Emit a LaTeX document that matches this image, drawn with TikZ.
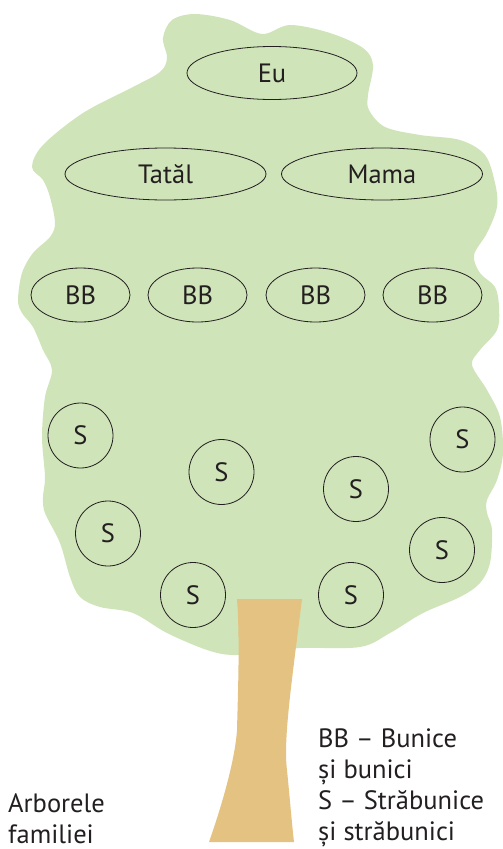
\documentclass[tikz,border=0pt]{standalone}
\usepackage{fontspec}
\setmainfont{PT Sans}
\usetikzlibrary{shapes.geometric}
\definecolor{leaf}{RGB}{207,228,185}
\definecolor{bark}{RGB}{228,194,130}
\definecolor{ink}{RGB}{35,31,32}

\begin{document}
\begin{tikzpicture}[
  x=1pt, y=-1pt,
  font=\fontsize{26.5}{31}\selectfont, text=ink,
  member/.style={draw=ink, line width=0.8pt, inner sep=0pt},
  me/.style={member, ellipse, minimum width=170pt, minimum height=53pt},
  parent/.style={member, ellipse, minimum width=201pt, minimum height=52pt},
  grand/.style={member, ellipse, minimum width=99pt, minimum height=54pt},
  great/.style={member, circle, minimum size=65pt},
]
\useasboundingbox (0,0) rectangle (503,849);

% crown of the tree
\fill[leaf] plot[smooth cycle, tension=0.55] coordinates {
  (163,38) (172,20) (195,14) (230,20) (262,34) (290,25) (330,33)
  (363,48) (373,65) (368,95) (369,110) (385,127) (420,135) (460,140)
  (485,155) (495,183) (497,207) (487,233) (474,255) (480,273) (495,287)
  (499,307) (497,330) (480,350) (472,365) (487,390) (500,417) (503,453)
  (497,480) (487,500) (487,513) (492,530) (490,563) (480,583) (460,597)
  (423,613) (390,633) (360,647) (300,648) (267,652) (233,655) (207,650)
  (167,633) (133,613) (100,607) (80,597) (70,577) (60,543) (45,513)
  (43,497) (45,477) (42,437) (45,397) (52,370) (43,350) (33,327)
  (22,313) (18,300) (22,273) (33,253) (50,237) (55,223) (50,197)
  (43,180) (32,167) (43,145) (83,113) (133,87) (160,72) (167,58)};

% trunk
\fill[bark] (237,599) -- (302,599)
  .. controls (292,680) and (283,740) .. (287,770)
  .. controls (290,800) and (292,825) .. (294,842)
  -- (209,842)
  .. controls (222,805) and (235,760) .. (237,730)
  .. controls (238,690) and (240,640) .. (237,599) -- cycle;

\node[me] (eu) at (272,73) {Eu};
\node[parent] (tata) at (165.5,174) {Tatăl};
\node[parent] (mama) at (382,174) {Mama};

\node[grand] (bb1) at (80.5,295) {BB};
\node[grand] (bb2) at (197.5,295) {BB};
\node[grand] (bb3) at (315.5,295) {BB};
\node[grand] (bb4) at (432.5,295) {BB};

\node[great] (s1) at (80.5,435.5) {S};
\node[great] (s2) at (221.5,472) {S};
\node[great] (s3) at (356,489) {S};
\node[great] (s4) at (462.5,439.5) {S};
\node[great] (s5) at (108,533.5) {S};
\node[great] (s6) at (442,550) {S};
\node[great] (s7) at (193,595) {S};
\node[great] (s8) at (351,595) {S};

\node[anchor=north west, align=left, inner sep=0pt] (title) at (8,793)
  {Arborele\\familiei};
\node[anchor=north west, align=left, inner sep=0pt] (legend) at (318,729)
  {BB\ – Bunice\\și bunici\\S\ – Străbunice\\și străbunici};

\end{tikzpicture}
\end{document}
